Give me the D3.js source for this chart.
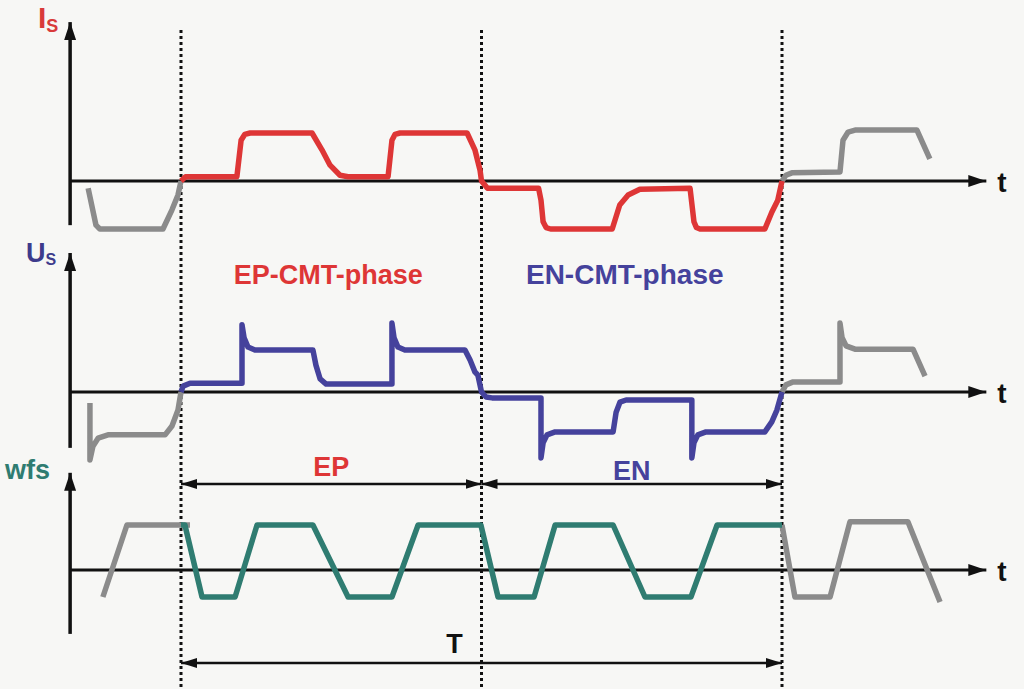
<!DOCTYPE html>
<html>
<head>
<meta charset="utf-8">
<script src="https://cdn.jsdelivr.net/npm/d3@7"></script>
<style>
  body { margin: 0; background: #f7f7f5; }
  svg { display: block; font-family: "Liberation Sans", Arial, sans-serif; font-weight: bold; }
</style>
</head>
<body>
<svg id="chart" width="1024" height="689"></svg>
<script>
// time in arbitrary units: EP half-period 0..10, EN half-period 10..20
var boundaries = [0, 10, 20];

// Is (welding current), units of the high level
var isLead  = [[-3.09,-0.15],[-2.83,-0.92],[-2.7,-1],[-0.6,-1],[-0.3,-0.6],[-0.1,-0.29],[0,0]];
var isMain  = [[0,0],[0.15,0.09],[1.86,0.09],[2.0,0.85],[2.12,0.97],[2.3,1],[4.36,1],[4.69,0.65],[4.96,0.33],
               [5.29,0.12],[5.56,0.09],[6.89,0.09],[7.02,0.85],[7.12,0.97],[7.29,1],[9.52,1],[9.78,0.65],
               [9.95,0.23],[10,0],[10.2,-0.15],[11.9,-0.15],[11.98,-0.4],[12.05,-0.85],[12.15,-0.97],[12.3,-1],
               [14.35,-1],[14.6,-0.5],[14.88,-0.29],[15.27,-0.17],[16.94,-0.15],[17.07,-0.85],[17.15,-0.97],
               [17.27,-1],[19.43,-1],[19.66,-0.65],[19.86,-0.4],[20,0]];
var isTail  = [[20,0],[20.13,0.12],[20.33,0.17],[21.93,0.19],[22.03,0.85],[22.2,1.02],[22.43,1.06],
               [24.49,1.06],[24.92,0.46]];

// Us (welding voltage)
var usLead  = [[-3.03,-0.26],[-3.03,-1.62],[-2.93,-1.29],[-2.76,-1.1],[-2.43,-1.02],[-0.53,-1.02],
               [-0.3,-0.81],[-0.1,-0.43],[0,0]];
var usMain  = [[0,0],[0.07,0.14],[0.3,0.21],[2.03,0.21],[2.03,1.6],[2.1,1.29],[2.23,1.07],[2.46,1],[4.39,1],
               [4.49,0.64],[4.63,0.31],[4.83,0.19],[7.02,0.19],[7.02,1.64],[7.09,1.29],[7.22,1.07],[7.45,1],
               [9.45,1],[9.62,0.76],[9.78,0.48],[9.88,0.4],[10,0],[10.15,-0.12],[10.35,-0.14],[11.98,-0.14],
               [11.98,-1.57],[12.05,-1.21],[12.18,-1.02],[12.45,-0.95],[14.38,-0.95],[14.48,-0.48],[14.61,-0.24],
               [14.81,-0.19],[17.0,-0.19],[17.0,-1.57],[17.07,-1.21],[17.2,-1.02],[17.47,-0.95],[19.43,-0.95],
               [19.66,-0.71],[19.83,-0.43],[20,0]];
var usTail  = [[20,0],[20.13,0.17],[20.37,0.24],[21.93,0.24],[21.93,1.64],[22.0,1.29],[22.13,1.1],
               [22.43,1.02],[24.36,1.02],[24.76,0.38]];

// wfs (wire feed speed)
var wfsLead = [[-2.6,-0.6],[-1.8,1],[0.3,1]];
var wfsMain = [[0,1],[0.13,1],[0.7,-0.6],[1.8,-0.6],[2.53,1],[4.39,1],[5.56,-0.6],[7.02,-0.6],[7.89,1],
               [9.98,1],[10.55,-0.6],[11.75,-0.6],[12.45,1],[14.38,1],[15.44,-0.6],[16.97,-0.6],[17.84,1],[20,1]];
var wfsTail = [[20,1],[20.43,-0.6],[21.6,-0.6],[22.26,1.07],[24.19,1.07],[25.26,-0.71]];

var svg = d3.select("#chart");
var x = d3.scaleLinear().domain([0, 20]).range([181, 782]);
var tStart = -3.69, tEnd = 26.8;

var defs = svg.append("defs");
function marker(id, w, h) {
  defs.append("marker")
      .attr("id", id)
      .attr("markerUnits", "userSpaceOnUse")
      .attr("viewBox", "0 0 " + w + " " + h)
      .attr("markerWidth", w)
      .attr("markerHeight", h)
      .attr("refX", w)
      .attr("refY", h / 2)
      .attr("orient", "auto-start-reverse")
    .append("path")
      .attr("d", "M0,0L" + w + "," + (h / 2) + "L0," + h + "Z")
      .attr("fill", "#111");
}
marker("axisHead", 18, 12);
marker("spanHead", 16, 10);

var panels = [
  {name: "Is",  y: d3.scaleLinear().domain([-1, 1]).range([229, 133]), vLow: -0.92, vHigh: 3.31,
   lead: isLead, main: isMain, tail: isTail, color: "#de3636"},
  {name: "Us",  y: d3.scaleLinear().domain([-1, 1]).range([434, 350]), vLow: -1.33, vHigh: 3.31,
   lead: usLead, main: usMain, tail: usTail, color: "#45429c"},
  {name: "wfs", y: d3.scaleLinear().domain([-1, 1]).range([615, 525]), vLow: -1.42, vHigh: 2.16,
   lead: wfsLead, main: wfsMain, tail: wfsTail, color: "#2f7c71"}
];

// dotted half-period markers
svg.selectAll(".marker-line")
  .data(boundaries)
  .enter().append("line")
    .attr("class", "marker-line")
    .attr("x1", function(d) { return x(d); })
    .attr("x2", function(d) { return x(d); })
    .attr("y1", 30)
    .attr("y2", 689)
    .attr("stroke", "#111")
    .attr("stroke-width", 3)
    .attr("stroke-dasharray", "3,3");

panels.forEach(function(p) {
  var g = svg.append("g").attr("class", "panel");
  var line = d3.line()
      .x(function(d) { return x(d[0]); })
      .y(function(d) { return p.y(d[1]); });

  // axes
  g.append("line")
      .attr("x1", x(tStart)).attr("x2", x(tEnd))
      .attr("y1", p.y(0)).attr("y2", p.y(0))
      .attr("stroke", "#111").attr("stroke-width", 3)
      .attr("marker-end", "url(#axisHead)");
  g.append("line")
      .attr("x1", x(tStart)).attr("x2", x(tStart))
      .attr("y1", p.y(p.vLow)).attr("y2", p.y(p.vHigh))
      .attr("stroke", "#111").attr("stroke-width", 3.5)
      .attr("marker-end", "url(#axisHead)");
  g.append("text")
      .attr("x", x(tEnd) + 11)
      .attr("y", p.y(0) + 11)
      .attr("font-size", 28)
      .attr("fill", "#111")
      .text("t");

  // waveforms
  [[p.lead, "#8b8b8b"], [p.tail, "#8b8b8b"], [p.main, p.color]].forEach(function(s) {
    g.append("path")
        .datum(s[0])
        .attr("d", line)
        .attr("fill", "none")
        .attr("stroke", s[1])
        .attr("stroke-width", 5.5)
        .attr("stroke-linejoin", "round")
        .attr("stroke-linecap", "butt");
  });
});

// axis labels
var isLabel = svg.append("text").attr("x", 38).attr("y", 28).attr("fill", "#d93a3a");
isLabel.append("tspan").attr("font-size", 30).text("I");
isLabel.append("tspan").attr("font-size", 18).attr("dy", 4).text("S");

var usLabel = svg.append("text").attr("x", 26).attr("y", 262).attr("fill", "#3d3b8c");
usLabel.append("tspan").attr("font-size", 27).text("U");
usLabel.append("tspan").attr("font-size", 16).attr("dy", 3).text("S");

svg.append("text").attr("x", 5).attr("y", 479).attr("font-size", 27)
    .attr("fill", "#2f7c71").text("wfs");

// phase titles
svg.append("text").attr("x", x(5) - 3).attr("y", 284).attr("text-anchor", "middle")
    .attr("font-size", 27).attr("fill", "#de3636").text("EP-CMT-phase");
svg.append("text").attr("x", x(15) - 7).attr("y", 284).attr("text-anchor", "middle")
    .attr("font-size", 28).attr("fill", "#45429c").text("EN-CMT-phase");

// span arrows
var spans = [
  {from: 0, to: 10, y: 484, label: "EP", color: "#de3636", ly: 476},
  {from: 10, to: 20, y: 484, label: "EN", color: "#45429c", ly: 480},
  {from: 0, to: 20, y: 663, label: "T", color: "#111", ly: 653}
];
spans.forEach(function(s) {
  svg.append("line")
      .attr("x1", x(s.from)).attr("x2", x(s.to))
      .attr("y1", s.y).attr("y2", s.y)
      .attr("stroke", "#111").attr("stroke-width", 2.5)
      .attr("marker-start", "url(#spanHead)")
      .attr("marker-end", "url(#spanHead)");
  svg.append("text")
      .attr("x", (x(s.from) + x(s.to)) / 2 - (s.label === "T" ? 27 : 0))
      .attr("y", s.ly)
      .attr("text-anchor", "middle")
      .attr("font-size", 27)
      .attr("fill", s.color)
      .text(s.label);
});
</script>
</body>
</html>
